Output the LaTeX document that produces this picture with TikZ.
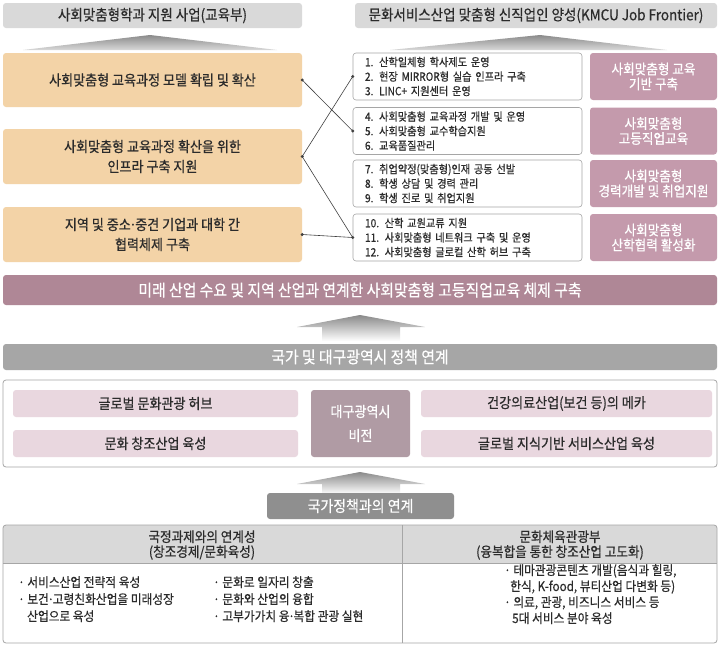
\documentclass[tikz,border=0pt]{standalone}
\usepackage{fontspec}
\setmainfont{Noto Sans CJK KR}[FakeStretch=0.9,FakeBold=0.5]
\newcommand\myfs[2]{\fontsize{#1}{#2}\selectfont}
\newcommand\mydot{\kern-0.1em·\kern-0.1em}
\definecolor{cHdr}{HTML}{D9D9D9}
\definecolor{cOrange}{HTML}{F3D3A7}
\definecolor{cMauve}{HTML}{C49AAC}
\definecolor{cBar}{HTML}{AF8796}
\definecolor{cGray}{HTML}{A6A6A6}
\definecolor{cPink}{HTML}{E9D7DF}
\definecolor{cCenter}{HTML}{B09BA4}
\definecolor{cNat}{HTML}{8F8F8F}
\definecolor{cBorder}{HTML}{A6A6A6}
\definecolor{cTxt}{HTML}{2B2B2B}
\definecolor{cLine}{HTML}{404040}
\definecolor{cArrow}{HTML}{8A8A8A}
\begin{document}
\begin{tikzpicture}[x=1pt,y=-1pt,
  box/.style={rounded corners=3pt, inner sep=0pt, align=center},
  hdr/.style={box, fill=cHdr, text=cTxt, font=\myfs{15}{18}, minimum height=25pt},
  orbox/.style={box, fill=cOrange, text=cTxt, font=\myfs{14.5}{20}, minimum width=299pt, minimum height=55pt},
  lst/.style={box, draw=cBorder, line width=0.6pt, fill=white, text=cTxt, font=\myfs{11.3}{14.5}, align=left, text width=205pt, minimum width=229pt, minimum height=47pt},
  mvbox/.style={box, fill=cMauve, text=white, font=\myfs{14}{15}, minimum width=127pt, minimum height=47pt},
  pkbox/.style={box, fill=cPink, text=cTxt, font=\myfs{14.5}{16}, minimum height=27pt},
  conn/.style={cLine, line width=0.6pt},
  body/.style={inner sep=0pt, text=cTxt, font=\myfs{13}{15}, anchor=base west},
  thead/.style={inner sep=0pt, text=cTxt, font=\myfs{14}{15}, align=center},
]
\useasboundingbox (0,0) rectangle (720,648);
\fill[white] (0,0) rectangle (720,648);

% top headers
\node[hdr, minimum width=299pt] (h1) at (152.5,15.5) {사회맞춤형학과 지원 사업(교육부)};
\node[hdr, minimum width=362pt] (h2) at (536,15.5) {문화서비스산업 맞춤형 신직업인 양성(KMCU Job Frontier)};
\shade[top color=cArrow, bottom color=cHdr] (150,35) -- (277,50) -- (23,50) -- cycle;
\shade[top color=cArrow, bottom color=cHdr] (540,35) -- (667,50) -- (390,50) -- cycle;

% left orange boxes
\node[orbox, minimum height=54pt] (l1) at (152.5,80) {사회맞춤형 교육과정 모델 확립 및 확산};
\node[orbox] (l2) at (152.5,156.5) {사회맞춤형 교육과정 확산을 위한\\인프라 구축 지원};
\node[orbox] (l3) at (152.5,234.5) {지역 및 중소\mydot 중견 기업과 대학 간\\협력체제 구축};

% middle lists
\node[lst] (m1) at (467.5,76.5) {1. 산학일체형 학사제도 운영\\2. 현장 MIRROR형 실습 인프라 구축\\3. LINC+ 지원센터 운영};
\node[lst] (m2) at (467.5,131) {4. 사회맞춤형 교육과정 개발 및 운영\\5. 사회맞춤형 교수학습지원\\6. 교육품질관리};
\node[lst] (m3) at (467.5,183.5) {7. 취업약정(맞춤형)인재 공동 선발\\8. 학생 상담 및 경력 관리\\9. 학생 진로 및 취업지원};
\node[lst] (m4) at (467.5,237.5) {10. 산학 교원교류 지원\\11. 사회맞춤형 네트워크 구축 및 운영\\12. 사회맞춤형 글로컬 산학 허브 구축};

% right mauve boxes
\node[mvbox] (r1) at (653.5,76.5) {사회맞춤형 교육\\기반 구축};
\node[mvbox] (r2) at (653.5,131) {사회맞춤형\\고등직업교육};
\node[mvbox] (r3) at (653.5,183.5) {사회맞춤형\\경력개발 및 취업지원};
\node[mvbox] (r4) at (653.5,237.5) {사회맞춤형\\산학협력 활성화};

% connectors
\draw[conn] (l1.east) -- (m2.west);
\draw[conn] (l2.east) -- (m1.west);
\draw[conn] (l2.east) -- (m4.west);
\draw[conn] (l3.east) -- (m4.west);
\foreach \p in {l1.east,l2.east,l3.east,m1.west,m2.west,m4.west}
  \fill[cLine] (\p) circle (1.7pt);

% big bar
\node[box, fill=cBar, text=white, font=\myfs{16.5}{18}, minimum width=714pt, minimum height=30pt] (bar) at (360,290) {미래 산업 수요 및 지역 산업과 연계한 사회맞춤형 고등직업교육 체제 구축};

% arrow 1
\shade[top color=cArrow, bottom color=white] (360,315) -- (425,327) -- (400,327) -- (400,341) -- (322,341) -- (322,327) -- (297,327) -- cycle;

% gray bar
\node[box, fill=cGray, text=white, font=\myfs{16.5}{18}, minimum width=714pt, minimum height=26pt] (gbar) at (360,357) {국가 및 대구광역시 정책 연계};

% vision box
\node[box, draw=cBorder, line width=0.8pt, fill=white, minimum width=714pt, minimum height=87pt] (vis) at (360,423.5) {};
\node[pkbox, minimum width=285pt] (p1) at (155.5,403.5) {글로벌 문화관광 허브};
\node[pkbox, minimum width=285pt] (p2) at (155.5,443.5) {문화 창조산업 육성};
\node[box, fill=cCenter, text=white, font=\myfs{14.5}{24}, minimum width=99pt, minimum height=67pt] (cen) at (360.5,423.5) {대구광역시\\비전};
\node[pkbox, minimum width=291pt] (p3) at (566.5,403.5) {건강의료산업(보건 등)의 메카};
\node[pkbox, minimum width=291pt] (p4) at (566.5,443.5) {글로벌 지식기반 서비스산업 육성};

% arrow 2
\shade[top color=cArrow, bottom color=white] (360,472) -- (425,484) -- (400,484) -- (400,494) -- (322,494) -- (322,484) -- (297,484) -- cycle;
\node[box, fill=cNat, text=white, font=\myfs{15.5}{17}, minimum width=187pt, minimum height=26pt] (nat) at (360.5,506) {국가정책과의 연계};

% table
\fill[cHdr] (3,563) [rounded corners=3pt] -- (3,525) -- (717,525) [sharp corners] -- (717,563) -- cycle;
\coordinate (hl) at (3,563);
\coordinate (hr) at (717,563);
\coordinate (dt) at (402,525);
\coordinate (db) at (402,643);
\draw[cBorder, line width=0.7pt] (hl) -- (hr);
\draw[cBorder, line width=0.7pt] (dt) -- (db);
\node[box, draw=cBorder, line width=0.8pt, minimum width=714pt, minimum height=118pt] (tbl) at (360,584) {};
\node[thead] (t1) at (202,545) {국정과제와의 연계성\\(창조경제/문화육성)};
\node[thead] (t2) at (560,545) {문화체육관광부\\(융복합을 통한 창조산업 고도화)};

\node[body] (b1) at (18,587) {· 서비스산업 전략적 육성};
\node[body] (b2) at (18,604) {· 보건\mydot 고령친화산업을 미래성장};
\node[body] (b3) at (27,621) {산업으로 육성};
\node[body] (b4) at (213,587) {· 문화로 일자리 창출};
\node[body] (b5) at (213,604) {· 문화와 산업의 융합};
\node[body] (b6) at (213,621) {· 고부가가치 융\mydot 복합 관광 실현};

\node[body] (c1) at (504,575) {· 테마관광콘텐츠 개발(음식과 힐링,};
\node[body] (c2) at (510,591) {한식, K-food, 뷰티산업 다변화 등)};
\node[body] (c3) at (504,607) {· 의료, 관광, 비즈니스 서비스 등};
\node[body] (c4) at (512,623) {5대 서비스 분야 육성};
\end{tikzpicture}
\end{document}
